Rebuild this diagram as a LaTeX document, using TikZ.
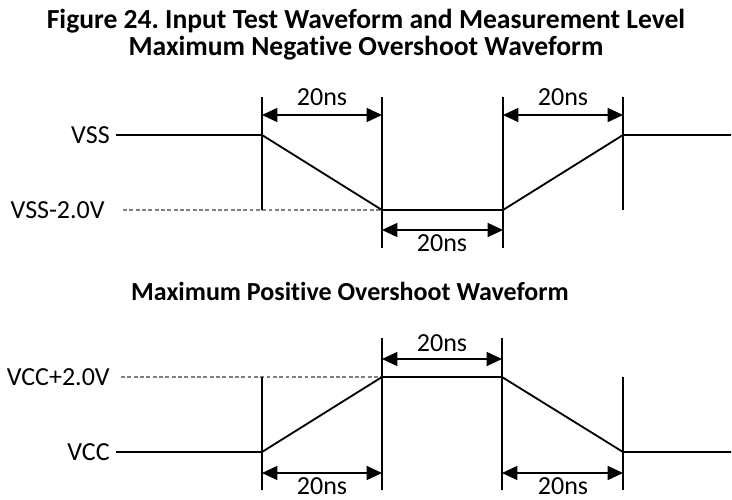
\documentclass[tikz,border=0pt]{standalone}
\usepackage{fontspec}
\setmainfont{Carlito}[Ligatures=NoCommon]
\frenchspacing
\usetikzlibrary{arrows.meta}
\tikzset{
  wave/.style={line width=1.3pt},
  limit/.style={line width=1.3pt},
  dimarrow/.style={line width=1.3pt,{Triangle[length=11pt,width=10pt]}-{Triangle[length=11pt,width=10pt]}},
  level/.style={gray,line width=0.9pt,dash pattern=on 2.8pt off 1.7pt},
  lbl/.style={font=\fontsize{18.5}{22}\selectfont,inner sep=0pt},
  heading/.style={font=\fontsize{19.6}{23}\selectfont\bfseries,inner sep=0pt,anchor=base},
  subheading/.style={font=\fontsize{18.5}{22}\selectfont\bfseries,inner sep=0pt,anchor=base}
}
\begin{document}
\begin{tikzpicture}[x=0.025cm,y=-0.025cm]
    \useasboundingbox (0,0) rectangle (732,500);
    % headings
    \node[heading] (title) at (366,28) {Figure 24. Input Test Waveform and Measurement Level};
    \node[heading] (negtitle) at (366,55) {Maximum Negative Overshoot Waveform};
    \node[subheading] (postitle) at (350,300) {Maximum Positive Overshoot Waveform};

    % negative overshoot
    \node[lbl,anchor=east] (vss) at (110,135) {VSS};
    \node[lbl,anchor=east] (vssneg) at (105,210) {VSS-2.0V};
    \coordinate (n0) at (116,135);
    \coordinate (n1) at (262,135);
    \coordinate (n2) at (382,210);
    \coordinate (n3) at (503,210);
    \coordinate (n4) at (623,135);
    \coordinate (n5) at (731,135);
    \coordinate (nd) at (123,210);
    \draw[level] (nd) -- (n2);
    \draw[wave] (n0) -- (n1) -- (n2) -- (n3) -- (n4) -- (n5);
    \draw[limit] (262,97) -- (262,210);
    \draw[limit] (382,97) -- (382,248);
    \draw[limit] (503,97) -- (503,248);
    \draw[limit] (623,97) -- (623,210);
    \draw[dimarrow] (262,115) -- (382,115);
    \draw[dimarrow] (503,115) -- (623,115);
    \draw[dimarrow] (382,230) -- (503,230);
    \node[lbl] (nfall) at (322,97) {20ns};
    \node[lbl] (nrise) at (563,97) {20ns};
    \node[lbl] (nlow) at (442,243) {20ns};

    % positive overshoot
    \node[lbl,anchor=east] (vccpos) at (110,377) {VCC+2.0V};
    \node[lbl,anchor=east] (vcc) at (110,452) {VCC};
    \coordinate (p0) at (116,452);
    \coordinate (p1) at (262,452);
    \coordinate (p2) at (382,377);
    \coordinate (p3) at (502,377);
    \coordinate (p4) at (623,452);
    \coordinate (p5) at (731,452);
    \coordinate (pd) at (121,377);
    \draw[level] (pd) -- (p2);
    \draw[wave] (p0) -- (p1) -- (p2) -- (p3) -- (p4) -- (p5);
    \draw[limit] (262,377) -- (262,490);
    \draw[limit] (382,338) -- (382,490);
    \draw[limit] (502,338) -- (502,490);
    \draw[limit] (623,377) -- (623,490);
    \draw[dimarrow] (382,359) -- (502,359);
    \draw[dimarrow] (262,473) -- (382,473);
    \draw[dimarrow] (502,473) -- (623,473);
    \node[lbl] (phigh) at (442,343) {20ns};
    \node[lbl] (prise) at (322,486) {20ns};
    \node[lbl] (pfall) at (563,486) {20ns};
\end{tikzpicture}
\end{document}
